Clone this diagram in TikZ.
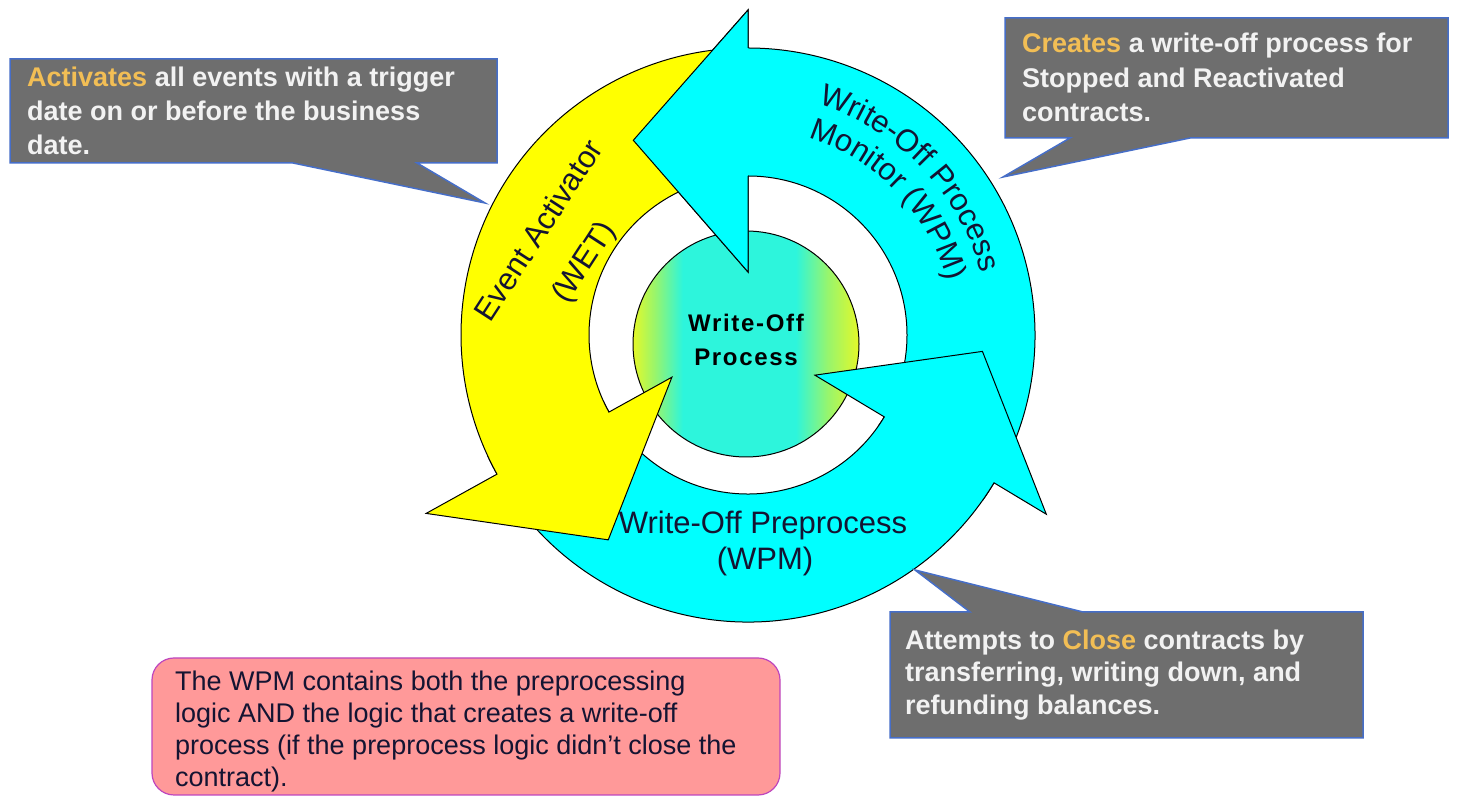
\documentclass[tikz,border=0pt]{standalone}
\usepackage{fontspec}
\setmainfont{Liberation Sans}
\usetikzlibrary{calc,decorations.text}
\definecolor{ycol}{RGB}{255,255,0}
\definecolor{ccol}{RGB}{0,255,255}
\definecolor{gbox}{RGB}{110,110,110}
\definecolor{bborder}{RGB}{70,110,200}
\definecolor{orng}{RGB}{242,190,85}
\definecolor{wtxt}{RGB}{242,242,242}
\definecolor{pinkfill}{RGB}{255,153,153}
\definecolor{pinkborder}{RGB}{190,70,190}
\definecolor{darktxt}{RGB}{20,20,50}
\definecolor{gY}{RGB}{228,248,40}
\definecolor{gG}{RGB}{150,245,110}
\definecolor{gC}{RGB}{45,245,220}
\pgfdeclarehorizontalshading{greenball}{100bp}{color(0bp)=(gY); color(25bp)=(gY); color(30bp)=(gG); color(36bp)=(gC); color(61bp)=(gC); color(68bp)=(gG); color(75bp)=(gY); color(100bp)=(gY)}
\begin{document}
\begin{tikzpicture}[x=1pt,y=1pt,
  arrowshape/.style={draw=black, line width=1pt, line join=miter},
  calloutbox/.style={fill=gbox, draw=bborder, line width=1.5pt},
  calltext/.style={anchor=base west, inner sep=0pt, text=wtxt, font=\fontsize{27}{34}\selectfont\bfseries},
  ringtext/.style={inner sep=0pt, text=darktxt, font=\fontsize{31}{34}\selectfont},
  notetext/.style={anchor=base west, inner sep=0pt, text=darktxt, font=\fontsize{27}{34}\selectfont},
  centertext/.style={anchor=base, inner sep=0pt, text=black, font=\fontsize{24}{30}\selectfont\bfseries\addfontfeature{LetterSpace=7}},
]
\useasboundingbox (0,0) rectangle (1459,797);
\fill[white] (0,0) rectangle (1459,797);
\coordinate (C) at (748,462);
\coordinate (G) at (746,453);

% centre circle
\shade[shading=greenball] (G) circle[radius=113];
\draw[line width=1pt] (G) circle[radius=113];

% Write-Off Process Monitor arrow
\filldraw[arrowshape, fill=ccol] ($(C)+(-35:287)$) arc[start angle=-35, end angle=90, radius=287]
  -- ($(C)+(90:325)$) -- ($(C)+(120.5:226)$) -- ($(C)+(90:63)$) -- ($(C)+(90:159)$)
  arc[start angle=90, end angle=-35, radius=159] -- cycle;

% Write-Off Preprocess arrow
\filldraw[arrowshape, fill=ccol] ($(C)+(205:287)$) arc[start angle=205, end angle=329, radius=287]
  -- ($(C)+(329:348)$) -- ($(C)+(356:235)$) -- ($(C)+(329:78)$) -- ($(C)+(329:159)$)
  arc[start angle=329, end angle=205, radius=159] -- cycle;

% Event Activator arrow
\filldraw[arrowshape, fill=ycol] ($(C)+(95:287)$) arc[start angle=95, end angle=209, radius=287]
  -- ($(C)+(209:368)$) -- ($(C)+(235.7:248)$) -- ($(C)+(209:87)$) -- ($(C)+(209:159)$)
  arc[start angle=209, end angle=95, radius=159] -- cycle;

% WPM arrowhead on top of the yellow tail
\fill[ccol] ($(C)+(90:325)$) -- ($(C)+(120.5:226)$) -- ($(C)+(90:63)$) -- cycle;
\draw[arrowshape] ($(C)+(90:287)$) -- ($(C)+(90:325)$) -- ($(C)+(120.5:226)$) -- ($(C)+(90:63)$) -- ($(C)+(90:159)$);

% ring labels
\node[ringtext, rotate=57] (ea1) at (538,567) {Event Activator};
\node[ringtext, rotate=57] (ea2) at (585,534) {(WET)};
\node[ringtext, anchor=base] (wp1) at (763,263) {Write-Off Preprocess};
\node[ringtext, anchor=base] (wp2) at (765,227) {(WPM)};
\path[decorate, decoration={text along path, text align=center,
  text={|\fontsize{31}{34}\selectfont\color{darktxt}|Write-Off Process}}]
  ($(C)+(89:241)$) arc[start angle=89, end angle=-1, radius=241];
\path[decorate, decoration={text along path, text align=center,
  text={|\fontsize{31}{34}\selectfont\color{darktxt}|Monitor (WPM)}}]
  ($(C)+(89:206)$) arc[start angle=89, end angle=-1, radius=206];

% centre label
\node[centertext] (wo1) at (746,465) {Write-Off};
\node[centertext] (wo2) at (746,431) {Process};

% callout 1
\draw[calloutbox] (10,738) -- (497,738) -- (497,634) -- (417,634) -- (485,594) -- (293,634) -- (10,634) -- cycle;
\node[calltext] (c1a) at (27,710) {\textcolor{orng}{Activates} all events with a trigger};
\node[calltext] (c1b) at (27,676) {date on or before the business};
\node[calltext] (c1c) at (27,642) {date.};

% callout 2
\draw[calloutbox] (1005,779) -- (1448,779) -- (1448,659) -- (1190,659) -- (1003,620) -- (1070,659) -- (1005,659) -- cycle;
\node[calltext] (c2a) at (1022,744) {\textcolor{orng}{Creates} a write-off process for};
\node[calltext] (c2b) at (1022,709) {Stopped and Reactivated};
\node[calltext] (c2c) at (1022,675) {contracts.};

% callout 3
\draw[calloutbox] (890,185) -- (970,185) -- (915,227) -- (1083,185) -- (1363,185) -- (1363,59) -- (890,59) -- cycle;
\node[calltext] (c3a) at (905,147) {Attempts to \textcolor{orng}{Close} contracts by};
\node[calltext] (c3b) at (905,115) {transferring, writing down, and};
\node[calltext] (c3c) at (905,82) {refunding balances.};

% note box
\draw[fill=pinkfill, draw=pinkborder, line width=1.2pt, rounded corners=22] (152,139) rectangle (780,2);
\node[notetext] (n1) at (175,106) {The WPM contains both the preprocessing};
\node[notetext] (n2) at (175,74) {logic AND the logic that creates a write-off};
\node[notetext] (n3) at (175,42) {process (if the preprocess logic didn’t close the};
\node[notetext] (n4) at (175,10) {contract).};
\end{tikzpicture}
\end{document}
